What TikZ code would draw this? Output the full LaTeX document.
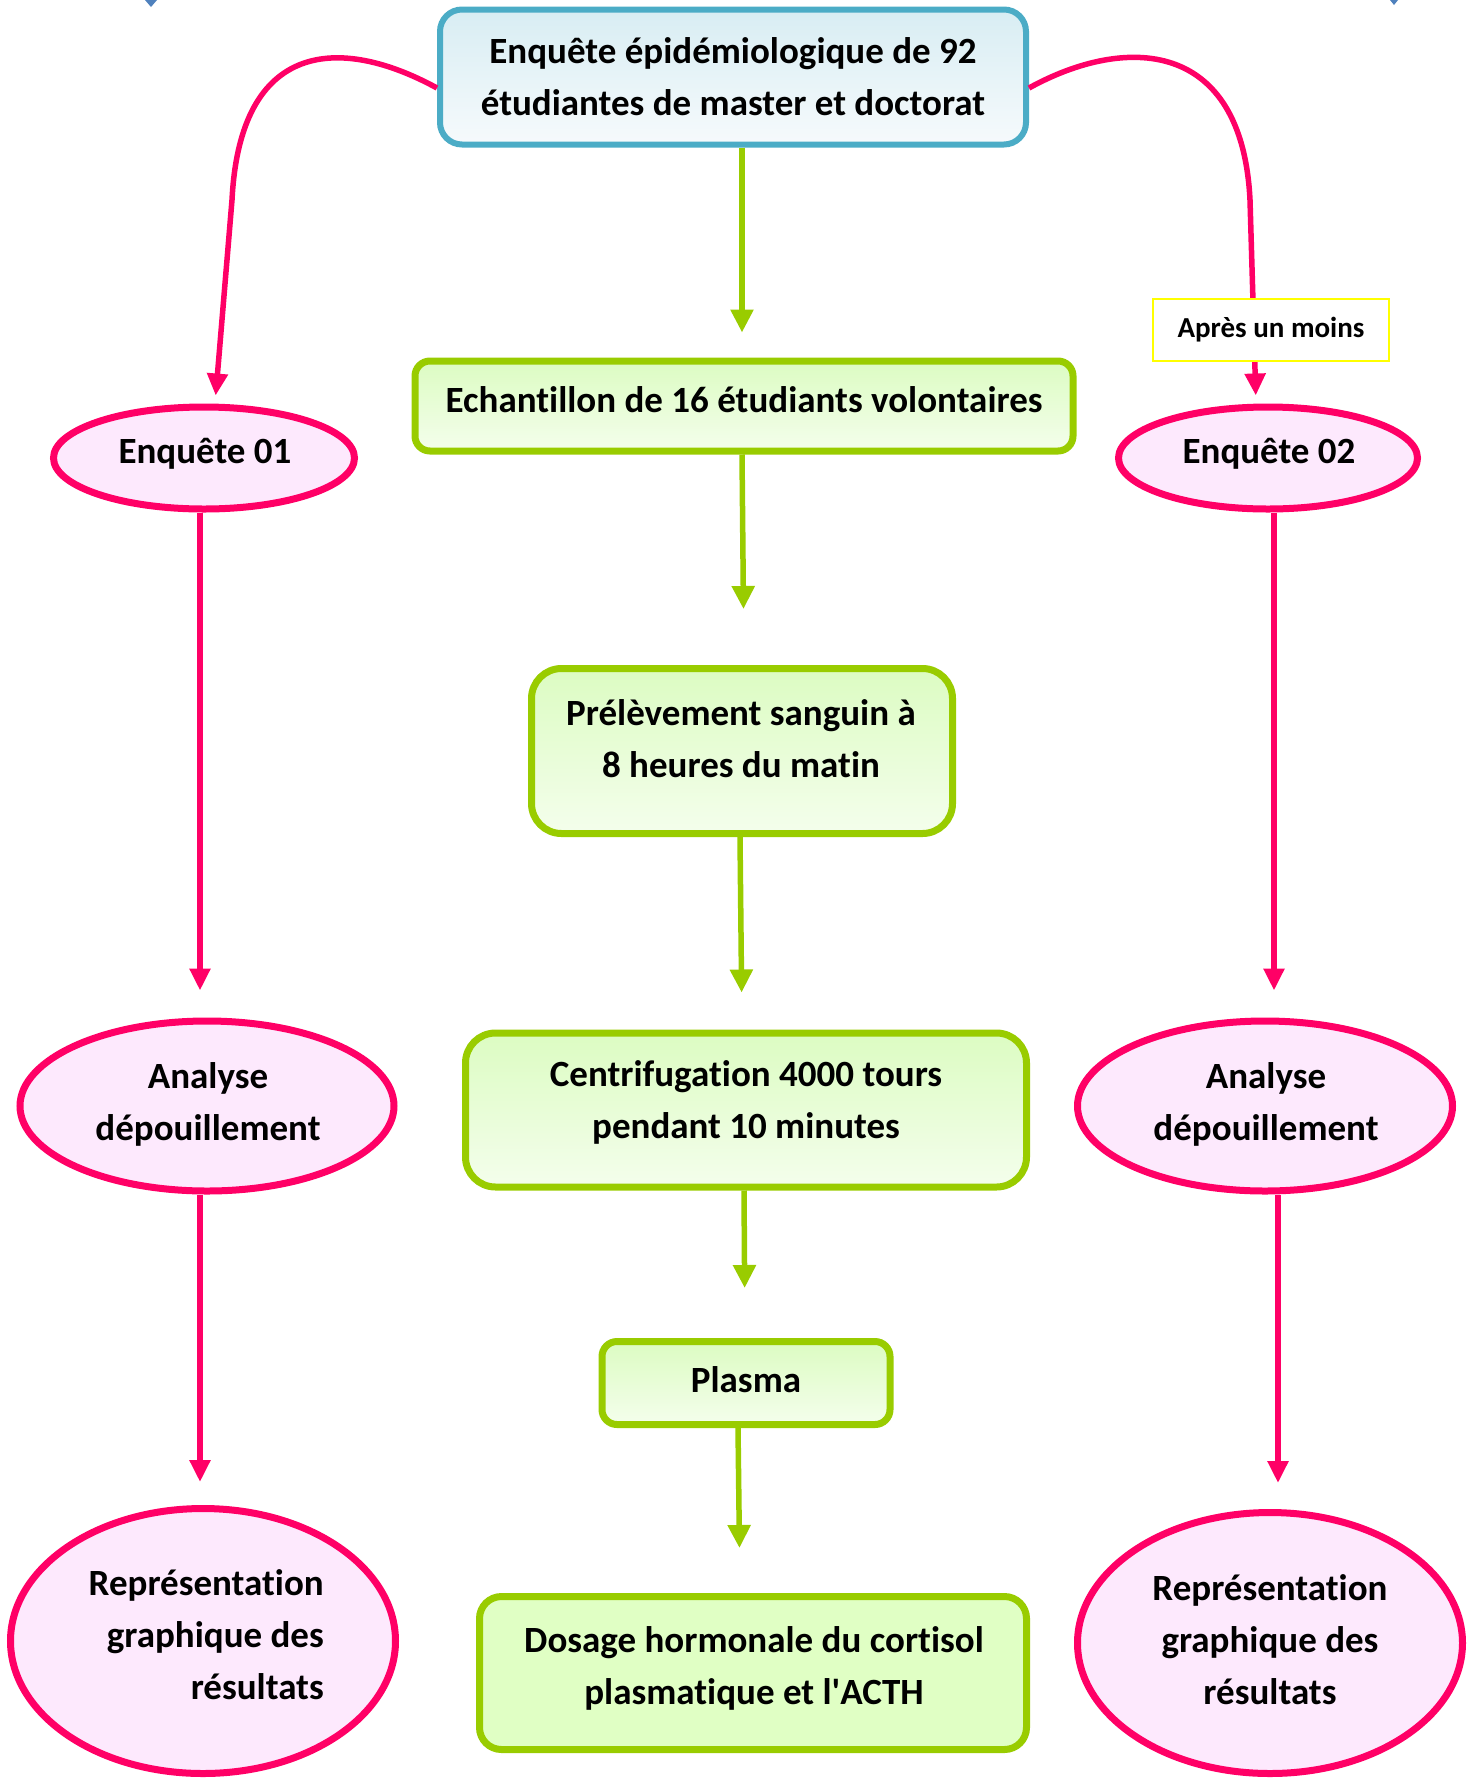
\documentclass[tikz,border=0pt]{standalone}
\usepackage{fontspec}
\setmainfont{Carlito}[Ligatures={NoCommon}]
\usetikzlibrary{arrows.meta,shapes.geometric,calc}
\definecolor{pinkline}{HTML}{FF0066}
\definecolor{pinkfill}{HTML}{FDE9FD}
\definecolor{greenline}{HTML}{99CC00}
\definecolor{greentop}{HTML}{DCFCC2}
\definecolor{greenbot}{HTML}{F4FEEC}
\definecolor{dosagefill}{HTML}{E0FFC4}
\definecolor{tealline}{HTML}{4BACC6}
\definecolor{bluetop}{HTML}{D8EDF3}
\definecolor{bluebot}{HTML}{F6FAFC}
\definecolor{markblue}{HTML}{4F81BD}
\definecolor{labelyellow}{HTML}{FFFF00}
\begin{document}
\begin{tikzpicture}[x=1pt,y=-1pt,
  txt/.style={font=\fontsize{37}{52}\selectfont\bfseries, align=center, inner sep=0pt},
  gbox/.style={draw=greenline, line width=7pt, top color=greentop, bottom color=greenbot, inner sep=0pt},
  pell/.style={ellipse, draw=pinkline, line width=7pt, fill=pinkfill, inner sep=0pt},
  parrow/.style={draw=pinkline, line width=5.5pt, -{Triangle[length=22pt,width=20pt]}},
  garrow/.style={draw=greenline, line width=5.5pt, -{Triangle[length=23pt,width=22pt]}}
]
\useasboundingbox (0,0) rectangle (1478,1778);

% corner marks
\fill[markblue] (145,0) -- (157,0) -- (151,7) -- cycle;
\fill[markblue] (1390,0) -- (1398,0) -- (1394,5) -- cycle;

% boxes
\node[draw=tealline, line width=6pt, rounded corners=22pt, top color=bluetop, bottom color=bluebot,
      minimum width=586pt, minimum height=135pt, inner sep=0pt] (top) at (733,77) {};
\node[gbox, rounded corners=15pt, minimum width=658pt, minimum height=90pt] (ech) at (744,406) {};
\node[gbox, rounded corners=30pt, minimum width=421pt, minimum height=165pt] (prel) at (742,751) {};
\node[gbox, rounded corners=30pt, minimum width=561pt, minimum height=154pt] (cent) at (746,1110) {};
\node[gbox, rounded corners=15pt, minimum width=288pt, minimum height=83pt] (plas) at (746,1383) {};
\node[draw=greenline, line width=7pt, fill=dosagefill, rounded corners=22pt, inner sep=0pt,
      minimum width=547pt, minimum height=153pt] (dos) at (753,1673) {};

% ellipses
\node[pell, minimum width=301pt, minimum height=102pt] (e1) at (204,458) {};
\node[pell, minimum width=299pt, minimum height=102pt] (e2) at (1268,458) {};
\node[pell, minimum width=374pt, minimum height=170pt] (a1) at (207,1106) {};
\node[pell, minimum width=375pt, minimum height=170pt] (a2) at (1265,1106) {};
\node[pell, minimum width=385pt, minimum height=265pt] (r1) at (203,1641) {};
\node[pell, minimum width=385pt, minimum height=261pt] (r2) at (1270,1643) {};

% texts
\node[txt] (ttop) at (733,77) {Enquête épidémiologique de 92\\étudiantes de master et doctorat};
\node[txt] (tech) at (744,400) {Echantillon de 16 étudiants volontaires};
\node[txt] (tprel) at (741,739) {Prélèvement sanguin à\\8 heures du matin};
\node[txt] (tcent) at (746,1102) {Centrifugation 4000 tours\\pendant 10 minutes};
\node[txt] (tplas) at (746,1380) {Plasma};
\node[txt] (tdos) at (754,1668) {Dosage hormonale du cortisol\\plasmatique et l\textquotesingle ACTH};
\node[txt] (te1) at (205,454) {Enquête 01};
\node[txt] (te2) at (1269,454) {Enquête 02};
\node[txt] (ta1) at (208,1104) {Analyse\\dépouillement};
\node[txt] (ta2) at (1266,1104) {Analyse\\dépouillement};
\node[txt, align=right, anchor=east] (tr1) at (324,1635) {Représentation\\graphique des\\résultats};
\node[txt] (tr2) at (1270,1640) {Représentation\\graphique des\\résultats};

% green connectors
\draw[garrow, shorten >=25pt] ([xshift=9pt]top.south) -- ([xshift=-2pt]ech.north);
\draw[garrow, shorten >=56pt] ([xshift=-2pt]ech.south) -- ([xshift=2pt]prel.north);
\draw[garrow, shorten >=37pt] ([xshift=-2pt]prel.south) -- ([xshift=-4pt]cent.north);
\draw[garrow, shorten >=50pt] ([xshift=-2pt]cent.south) -- ([xshift=-1pt]plas.north);
\draw[garrow, shorten >=45pt] ([xshift=-8pt]plas.south) -- ([xshift=-13pt]dos.north);

% pink connectors
\draw[parrow, shorten >=8pt] ([yshift=-11pt]top.west) .. controls (340,35) and (240,40) .. (232,200) -- ([xshift=11pt]e1.north);
\draw[parrow, shorten >=8pt] ([yshift=-11pt]top.east) .. controls (1125,35) and (1242,38) .. (1250,200) -- ([xshift=-12pt]e2.north);
\draw[parrow, shorten >=27pt] ([xshift=-4pt]e1.south) -- ([xshift=-7pt]a1.north);
\draw[parrow, shorten >=23pt] ([xshift=-7pt]a1.south) -- ([xshift=-3pt]r1.north);
\draw[parrow, shorten >=27pt] ([xshift=6pt]e2.south) -- ([xshift=9pt]a2.north);
\draw[parrow, shorten >=26pt] ([xshift=13pt]a2.south) -- ([xshift=8pt]r2.north);

% label
\node[draw=labelyellow, line width=2pt, fill=white, minimum width=236pt, minimum height=62pt, inner sep=0pt,
      font=\fontsize{29}{35}\selectfont\bfseries] (lab) at (1271,330) {Après un moins};
\end{tikzpicture}
\end{document}
